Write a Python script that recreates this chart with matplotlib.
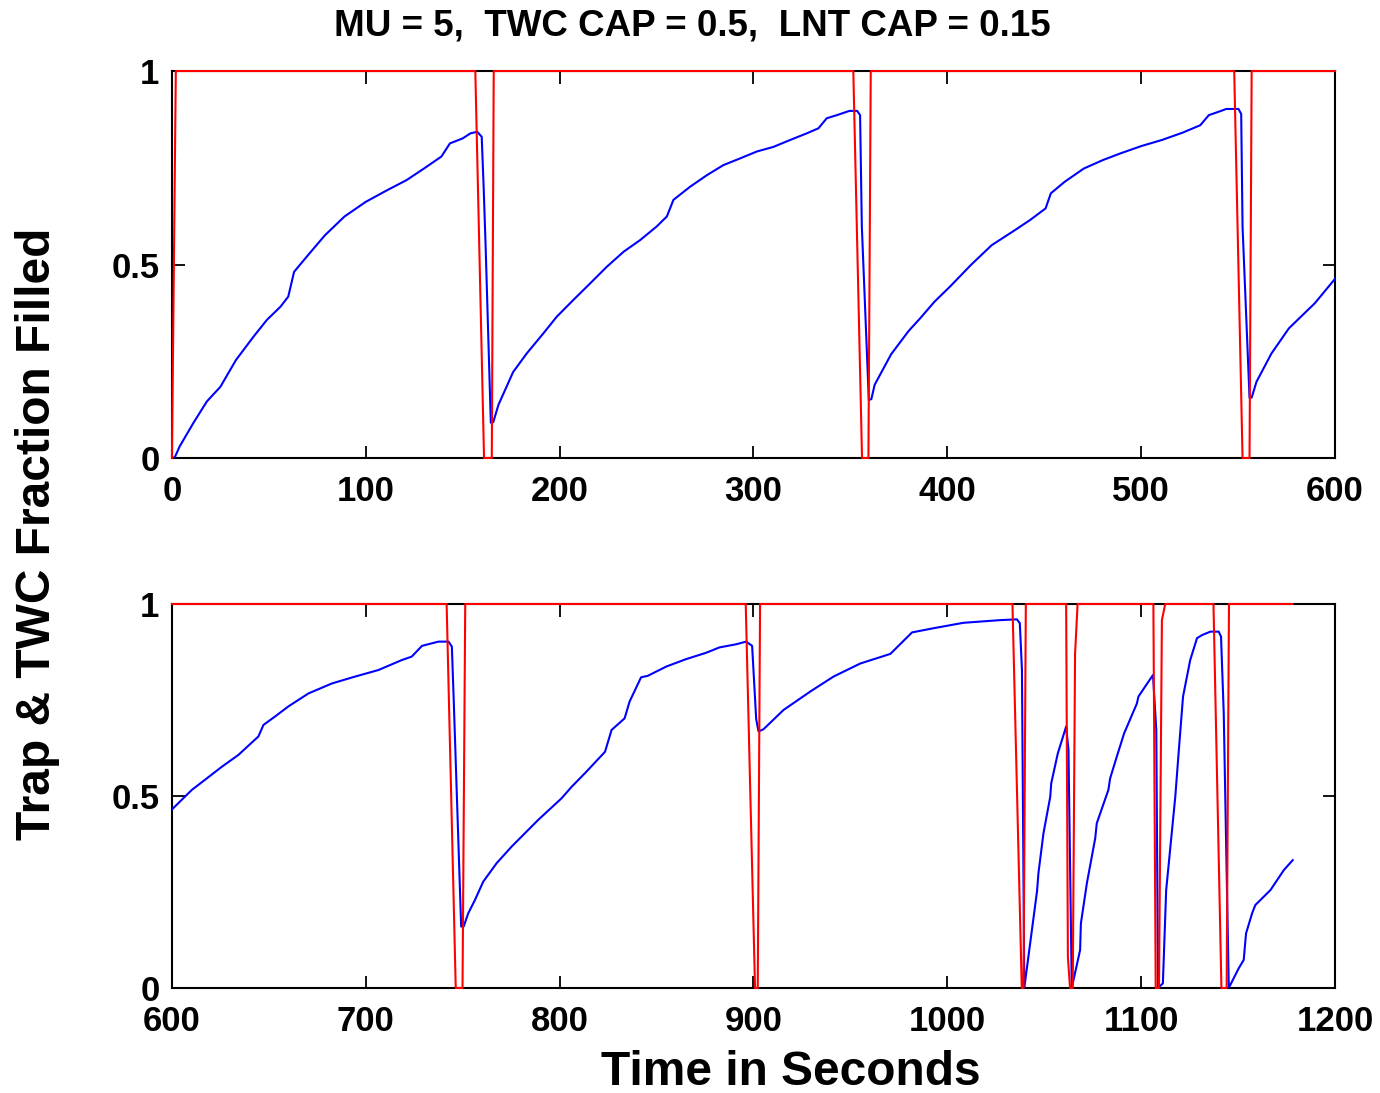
"""Trap & TWC fraction filled vs time, two stacked panels (MATLAB-style)."""

import matplotlib
matplotlib.use("Agg")
import matplotlib.pyplot as plt

# ---------------------------------------------------------------------------
# Data
# ---------------------------------------------------------------------------
# TWC (red) fraction, panel 1 (0-600 s)
red1_t = [0, 2, 156.5, 161, 165, 166, 351.5, 356, 359.3, 360.5,
          548, 552.3, 555.9, 557, 600]
red1_v = [0, 1, 1, 0, 0, 1, 1, 0, 0, 1, 1, 0, 0, 1, 1]

# Trap (blue) fraction, panel 1
blue1_t = [0, 1.5, 4, 11, 18, 25, 33, 42, 49, 56, 60, 63, 71, 79, 89, 100,
           111, 121, 130, 139, 143.4, 150, 154, 157.5, 159.8, 160.8, 161.8,
           164.5, 165.8, 168.4, 176, 183, 191.6, 198.5, 207, 215.7, 224.3,
           233, 241.5, 250, 255.3, 258.7, 267.3, 276, 284.5, 293, 301.7,
           310.3, 319, 327.5, 333.5, 337.8, 343, 349.5, 353.5, 355, 355.9,
           359.5, 360.8, 362.5, 371, 380, 386, 393.4, 401.4, 412.2, 422.9,
           433.7, 442.7, 450.7, 453.4, 460.6, 470.4, 480.3, 489.2, 500,
           510.8, 521.5, 530.5, 534.9, 541.2, 543.9, 550.2, 551.6, 552.3,
           555.9, 557, 559.5, 567.2, 576.2, 589.6, 600]
blue1_v = [0, 0.002, 0.03, 0.09, 0.146, 0.184, 0.253, 0.313, 0.357, 0.391,
           0.417, 0.481, 0.529, 0.576, 0.624, 0.662, 0.692, 0.718, 0.748,
           0.779, 0.813, 0.826, 0.839, 0.843, 0.830, 0.70, 0.55, 0.091, 0.093,
           0.137, 0.222, 0.270, 0.322, 0.365, 0.408, 0.451, 0.494, 0.533,
           0.563, 0.598, 0.624, 0.667, 0.701, 0.731, 0.757, 0.774, 0.792,
           0.804, 0.822, 0.839, 0.852, 0.878, 0.886, 0.897, 0.897, 0.886,
           0.598, 0.150, 0.152, 0.189, 0.268, 0.328, 0.361, 0.404, 0.443,
           0.499, 0.550, 0.585, 0.615, 0.645, 0.684, 0.714, 0.748, 0.770,
           0.787, 0.806, 0.822, 0.841, 0.860, 0.886, 0.897, 0.902, 0.902,
           0.889, 0.598, 0.156, 0.156, 0.197, 0.270, 0.335, 0.400, 0.463]

# TWC (red) fraction, panel 2 (600-1200 s)
red2_t = [600, 741.7, 746.4, 749.9, 751.3, 896, 900.8, 902.2, 903.4,
          1033.6, 1038.4, 1039.3, 1040.5, 1061.3, 1062.2, 1063.3, 1064.7,
          1065.9, 1067.2, 1106.3, 1107.5, 1109.2, 1110.7, 1112.4, 1137.3,
          1141.4, 1144.1, 1145.3, 1178]
red2_v = [1, 1, 0, 0, 1, 1, 0, 0, 1, 1, 0, 0, 1, 1, 0.08, 0, 0, 0.87, 1,
          1, 0, 0, 0.958, 1, 1, 0, 0, 1, 1]

# Trap (blue) fraction, panel 2
blue2_t = [600, 610.3, 617, 625.7, 634.3, 644.6, 647.2, 653.2, 660, 670.4,
           682.5, 694.5, 706.5, 718.6, 723.7, 729, 737.5, 742.7, 744.4,
           745.3, 747, 749.2, 750.5, 752.8, 756.3, 760.6, 767.5, 775.2, 789,
           801, 806.2, 813, 823.4, 826.8, 833.5, 836.1, 842, 845.5, 855, 865,
           875.6, 882.5, 891, 896.2, 899.3, 901.4, 902.6, 905.2, 915.5,
           929.3, 941.3, 955.1, 970.6, 981.8, 993, 1008.3, 1027.3, 1035.9,
           1037.4, 1038.5, 1039.7, 1046.3, 1047, 1049.6, 1053.1, 1053.6,
           1057, 1061.3, 1062.5, 1064.2, 1068.5, 1068.9, 1072, 1076.3,
           1077.1, 1083.1, 1084, 1087.4, 1091.2, 1097.8, 1098.6, 1103.8,
           1106.1, 1107.8, 1108.7, 1111.2, 1112.9, 1117.6, 1119.3, 1121.6,
           1125.3, 1128.8, 1131.4, 1135.7, 1140, 1141.2, 1142.6, 1145.2,
           1150.3, 1152.9, 1154.1, 1157.2, 1158.9, 1166.7, 1173.6, 1178.2]
blue2_v = [0.465, 0.516, 0.542, 0.576, 0.607, 0.655, 0.685, 0.707, 0.733,
           0.767, 0.793, 0.811, 0.828, 0.854, 0.863, 0.891, 0.902, 0.902,
           0.889, 0.759, 0.498, 0.160, 0.160, 0.194, 0.229, 0.277, 0.325,
           0.368, 0.438, 0.494, 0.524, 0.559, 0.615, 0.672, 0.702, 0.746,
           0.809, 0.813, 0.837, 0.856, 0.873, 0.887, 0.895, 0.902, 0.891,
           0.70, 0.668, 0.674, 0.724, 0.772, 0.811, 0.845, 0.870, 0.926,
           0.937, 0.951, 0.958, 0.960, 0.950, 0.828, 0.0, 0.253, 0.299,
           0.403, 0.498, 0.533, 0.611, 0.681, 0.620, 0.0, 0.099, 0.168,
           0.273, 0.390, 0.429, 0.516, 0.546, 0.602, 0.663, 0.741, 0.759,
           0.798, 0.815, 0.672, 0.0, 0.012, 0.255, 0.498, 0.611, 0.759,
           0.854, 0.911, 0.919, 0.928, 0.928, 0.915, 0.715, 0.0, 0.051,
           0.073, 0.142, 0.194, 0.216, 0.255, 0.307, 0.333]

xticks1 = [0, 100, 200, 300, 400, 500, 600]
xticks2 = [600, 700, 800, 900, 1000, 1100, 1200]
yticks = [0, 0.5, 1]
ytick_labels = ["0", "0.5", "1"]

title = "MU = 5,  TWC CAP = 0.5,  LNT CAP = 0.15"
ylabel = "Trap & TWC Fraction Filled"
xlabel = "Time in Seconds"

# ---------------------------------------------------------------------------
# Figure
# ---------------------------------------------------------------------------
plt.rcParams.update({
    "font.family": ["Liberation Sans", "DejaVu Sans"],
    "font.weight": "bold",
    "axes.linewidth": 1.5,
    "xtick.direction": "in",
    "ytick.direction": "in",
    "xtick.top": True,
    "ytick.right": True,
    "xtick.major.size": 9,
    "ytick.major.size": 9,
    "xtick.major.width": 1.3,
    "ytick.major.width": 1.3,
    "xtick.labelsize": 25,
    "ytick.labelsize": 25,
    "xtick.major.pad": 12,
    "ytick.major.pad": 9,
})

fig = plt.figure(figsize=(13.8, 10.93), dpi=100)
ax1 = fig.add_axes([0.1246, 0.581, 0.8428, 0.354])
ax2 = fig.add_axes([0.1246, 0.0961, 0.8428, 0.3513])

panels = [
    (ax1, red1_t, red1_v, blue1_t, blue1_v, (0, 600), xticks1),
    (ax2, red2_t, red2_v, blue2_t, blue2_v, (600, 1200), xticks2),
]
for ax, rt, rv, bt, bv, xlim, xt in panels:
    ax.plot(bt, bv, color="#0000ff", lw=1.5, zorder=3)
    ax.plot(rt, rv, color="#ff0000", lw=1.5, zorder=4, clip_on=False)
    ax.set_xlim(*xlim)
    ax.set_ylim(0, 1)
    ax.set_xticks(xt)
    ax.set_xticklabels([str(v) for v in xt], fontweight="bold")
    ax.set_yticks(yticks)
    ax.set_yticklabels(ytick_labels, fontweight="bold")

fig.text(0.502, 0.976, title, ha="center", va="center", fontsize=26.5,
         fontweight="bold")
fig.text(0.0275, 0.5114, ylabel, ha="center", va="center", rotation=90,
         fontsize=34.5, fontweight="bold")
fig.text(0.573, 0.019, xlabel, ha="center", va="center", fontsize=34.5,
         fontweight="bold")

fig.savefig("out.png", dpi=100, facecolor="white")
